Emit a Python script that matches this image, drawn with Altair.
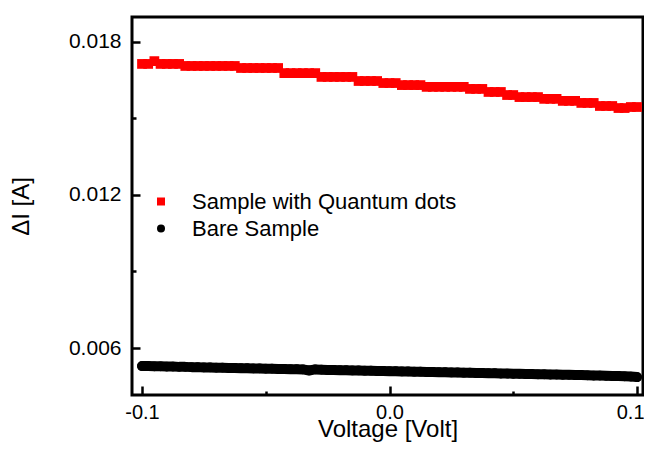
import altair as alt
import pandas as pd

# ---------------- data ----------------
voltage = [
    -0.1, -0.0975, -0.095, -0.0925, -0.09, -0.0875, -0.085, -0.0825, -0.08, -0.0775,
    -0.075, -0.0725, -0.07, -0.0675, -0.065, -0.0625, -0.06, -0.0575, -0.055, -0.0525,
    -0.05, -0.0475, -0.045, -0.0425, -0.04, -0.0375, -0.035, -0.0325, -0.03, -0.0275,
    -0.025, -0.0225, -0.02, -0.0175, -0.015, -0.0125, -0.01, -0.0075, -0.005, -0.0025,
    0.0, 0.0025, 0.005, 0.0075, 0.01, 0.0125, 0.015, 0.0175, 0.02, 0.0225,
    0.025, 0.0275, 0.03, 0.0325, 0.035, 0.0375, 0.04, 0.0425, 0.045, 0.0475,
    0.05, 0.0525, 0.055, 0.0575, 0.06, 0.0625, 0.065, 0.0675, 0.07, 0.0725,
    0.075, 0.0775, 0.08, 0.0825, 0.085, 0.0875, 0.09, 0.0925, 0.095, 0.0975,
    0.1,
]

qd_current = [
    0.01714, 0.01714, 0.01725, 0.01714, 0.01714, 0.01714, 0.01714, 0.01706, 0.01706, 0.01706,
    0.01706, 0.01706, 0.01706, 0.01706, 0.01706, 0.01706, 0.01698, 0.01698, 0.01698, 0.01698,
    0.01698, 0.01698, 0.01698, 0.01678, 0.01678, 0.01678, 0.01678, 0.01678, 0.01678, 0.01663,
    0.01663, 0.01663, 0.01663, 0.01663, 0.01663, 0.01647, 0.01647, 0.01647, 0.01647, 0.01639,
    0.01639, 0.01639, 0.01631, 0.01631, 0.01631, 0.01631, 0.01624, 0.01624, 0.01624, 0.01624,
    0.01624, 0.01624, 0.01624, 0.01616, 0.01616, 0.01616, 0.01604, 0.01604, 0.01604, 0.01592,
    0.01592, 0.01584, 0.01584, 0.01584, 0.01584, 0.01577, 0.01577, 0.01577, 0.01569, 0.01569,
    0.01569, 0.01561, 0.01561, 0.01561, 0.01549, 0.01549, 0.01549, 0.01541, 0.01541, 0.01545,
    0.01545,
]

bare_current = [
    0.00529, 0.00529, 0.00528, 0.00528, 0.00527, 0.00527, 0.00526, 0.00526, 0.00525, 0.00525,
    0.00524, 0.00524, 0.00523, 0.00523, 0.00522, 0.00522, 0.00521, 0.00521, 0.00520, 0.00520,
    0.00519, 0.00519, 0.00518, 0.00518, 0.00517, 0.00517, 0.00516, 0.00512, 0.00516, 0.00515,
    0.00514, 0.00514, 0.00513, 0.00513, 0.00512, 0.00512, 0.00511, 0.00511, 0.00510, 0.00510,
    0.00509, 0.00509, 0.00508, 0.00508, 0.00507, 0.00507, 0.00506, 0.00506, 0.00505, 0.00505,
    0.00504, 0.00504, 0.00503, 0.00503, 0.00502, 0.00502, 0.00501, 0.00501, 0.00500, 0.00500,
    0.00499, 0.00499, 0.00498, 0.00498, 0.00497, 0.00497, 0.00496, 0.00496, 0.00495, 0.00495,
    0.00494, 0.00494, 0.00493, 0.00492, 0.00492, 0.00491, 0.00490, 0.00490, 0.00489, 0.00488,
    0.00486,
]

series_names = ["Sample with Quantum dots", "Bare Sample"]
series_colors = ["#ff0000", "#000000"]
series_shapes = ["square", "circle"]

x_ticks = [-0.1, -0.05, 0.0, 0.05, 0.1]
y_ticks = [0.006, 0.009, 0.012, 0.015, 0.018]

df = pd.DataFrame({
    "voltage": voltage + voltage,
    "current": qd_current + bare_current,
    "series": [series_names[0]] * len(voltage) + [series_names[1]] * len(voltage),
})

FONT = "Liberation Sans"

x_major = "abs(round(datum.value*100)) % 10 == 0"
y_major = "round(datum.value*1000) % 6 == 0"
x_last = "datum.value > 0.09"

x_axis = alt.Axis(
    values=x_ticks,
    format=".1f",
    labelExpr=x_major + " ? replace(datum.label, '\u2212', '-') : ''",
    tickSize={"condition": {"test": x_major, "value": -9}, "value": -4},
    labelAlign={"condition": {"test": x_last, "value": "right"}, "value": "center"},
    labelOffset={"condition": {"test": x_last, "value": 7}, "value": 0},
    labelPadding=16,
    labelFontSize=20,
    labelFlush=False,
    labelOverlap=False,
    title="Voltage [Volt]",
    titleFontSize=24,
    titleY=22.5,
    titleBaseline="top",
)

y_axis = alt.Axis(
    values=y_ticks,
    format=".3f",
    labelExpr=y_major + " ? datum.label : ''",
    tickSize={"condition": {"test": y_major, "value": -8}, "value": -4},
    labelPadding=19,
    labelFontSize=21,
    labelOverlap=False,
    title="\u0394I [A]",
    titleFontSize=24,
    titleX=-99,
)

x_enc = alt.X("voltage:Q", scale=alt.Scale(domain=[-0.10404, 0.10242], nice=False, zero=False), axis=x_axis)
y_enc = alt.Y("current:Q", scale=alt.Scale(domain=[0.004157, 0.01898], nice=False, zero=False), axis=y_axis)

base = alt.Chart(df)

bare_band = (
    base.transform_filter(alt.datum.series == series_names[1])
    .mark_line(color="black", strokeWidth=10, strokeCap="round", strokeJoin="round")
    .encode(x=x_enc, y=y_enc)
)

points = (
    base.mark_point(filled=True, opacity=1, size=95)
    .encode(
        x=x_enc,
        y=y_enc,
        color=alt.Color(
            "series:N",
            scale=alt.Scale(domain=series_names, range=series_colors),
            title=None,
            legend=alt.Legend(orient="none", legendX=18, legendY=173.5),
        ),
        shape=alt.Shape(
            "series:N",
            scale=alt.Scale(domain=series_names, range=series_shapes),
            title=None,
        ),
    )
)

chart = (
    alt.layer(bare_band, points)
    .properties(
        width=511,
        height=378,
        autosize=alt.AutoSizeParams(type="none"),
        padding={"left": 124, "top": 9, "right": 1, "bottom": 49},
    )
    .configure_view(stroke="black", strokeWidth=3)
    .configure_axis(
        domain=False,
        grid=False,
        labelFont=FONT,
        labelColor="black",
        titleFont=FONT,
        titleColor="black",
        titleFontWeight="normal",
        tickColor="black",
        tickWidth=2.5,
    )
    .configure_legend(
        padding=0,
        symbolSize=64,
        symbolStrokeWidth=0,
        symbolOpacity=1,
        labelFont=FONT,
        labelFontSize=22,
        labelColor="black",
        labelOffset=20,
        rowPadding=5,
        labelLimit=400,
    )
)

chart.save("out.html", embed_options={"renderer": "svg", "actions": False})
